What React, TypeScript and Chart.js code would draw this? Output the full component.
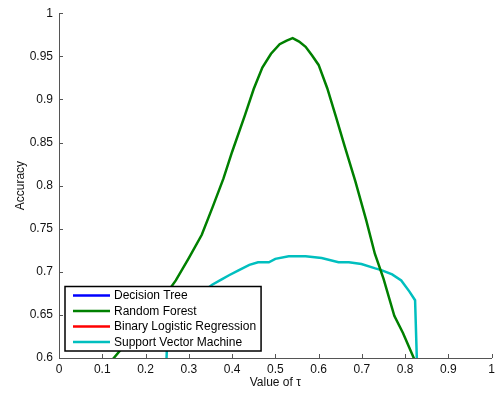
import React, { useEffect, useRef } from "react";
import { Chart, registerables } from "chart.js";

Chart.register(...registerables);

const seriesNames = ["Decision Tree", "Random Forest", "Binary Logistic Regression", "Support Vector Machine"];
const seriesColors = ["#0000FF", "#008000", "#FF0000", "#00BFBF"];

const xTicks = [0, 0.1, 0.2, 0.3, 0.4, 0.5, 0.6, 0.7, 0.8, 0.9, 1];
const yTicks = [0.6, 0.65, 0.7, 0.75, 0.8, 0.85, 0.9, 0.95, 1];

// Decision Tree and Binary Logistic Regression are not visible in the plotted range
const dtTau: number[] = [];
const dtAcc: number[] = [];
const blrTau: number[] = [];
const blrAcc: number[] = [];

const rfTau = [0.12, 0.15, 0.2, 0.25, 0.27, 0.3, 0.33, 0.355, 0.38, 0.4, 0.43, 0.45, 0.47, 0.49, 0.51, 0.525, 0.54, 0.555, 0.57, 0.585, 0.6, 0.62, 0.64, 0.66, 0.685, 0.71, 0.73, 0.75, 0.775, 0.795, 0.82, 0.825];
const rfAcc = [0.596, 0.614, 0.645, 0.676, 0.69, 0.716, 0.743, 0.775, 0.808, 0.839, 0.882, 0.912, 0.937, 0.953, 0.964, 0.968, 0.971, 0.967, 0.961, 0.951, 0.94, 0.913, 0.88, 0.846, 0.805, 0.76, 0.721, 0.692, 0.649, 0.629, 0.6, 0.594];

const svmTau = [0.245, 0.25, 0.28, 0.32, 0.354, 0.375, 0.393, 0.416, 0.44, 0.46, 0.485, 0.5, 0.531, 0.57, 0.607, 0.646, 0.67, 0.699, 0.731, 0.745, 0.77, 0.791, 0.81, 0.823, 0.83];
const svmAcc = [0.55, 0.62, 0.655, 0.672, 0.685, 0.691, 0.696, 0.702, 0.708, 0.711, 0.711, 0.715, 0.718, 0.718, 0.716, 0.711, 0.711, 0.709, 0.704, 0.702, 0.697, 0.69, 0.677, 0.667, 0.55];

const allTau = [dtTau, rfTau, blrTau, svmTau];
const allAcc = [dtAcc, rfAcc, blrAcc, svmAcc];

const FONT = "'Liberation Sans', Arial, Helvetica, sans-serif";
const fmt = (v: number) => String(Number(Number(v).toFixed(2)));

const inwardTicks = {
  id: "inwardTicks",
  afterDraw(chart: any) {
    const ctx = chart.ctx;
    const xs = chart.scales.x;
    const ys = chart.scales.y;
    const area = chart.chartArea;
    ctx.save();
    ctx.strokeStyle = "#555";
    ctx.lineWidth = 1;
    ctx.beginPath();
    xTicks.forEach((t) => {
      const px = Math.round(xs.getPixelForValue(t)) + 0.5;
      ctx.moveTo(px, area.bottom);
      ctx.lineTo(px, area.bottom - 4);
    });
    yTicks.forEach((t) => {
      const py = Math.round(ys.getPixelForValue(t)) + 0.5;
      ctx.moveTo(area.left, py);
      ctx.lineTo(area.left + 4, py);
    });
    ctx.stroke();
    ctx.restore();
  },
};

const boxLegend = {
  id: "boxLegend",
  afterDatasetsDraw(chart: any) {
    const ctx = chart.ctx;
    const area = chart.chartArea;
    ctx.save();
    ctx.font = `12px ${FONT}`;
    const maxW = Math.max(...seriesNames.map((n) => ctx.measureText(n).width));
    const rowH = 15.5;
    const padTop = 9;
    const left = area.left + 6;
    const h = padTop * 2 + rowH * (seriesNames.length - 1);
    const bottom = area.bottom - 7;
    const top = bottom - h;
    const w = 8 + 37 + 4 + maxW + 5;
    ctx.fillStyle = "#fff";
    ctx.fillRect(left, top, w, h);
    ctx.strokeStyle = "#000";
    ctx.lineWidth = 1.5;
    ctx.strokeRect(left, top, w, h);
    seriesNames.forEach((name, i) => {
      const cy = top + padTop + i * rowH;
      ctx.strokeStyle = seriesColors[i];
      ctx.lineWidth = 2.5;
      ctx.beginPath();
      ctx.moveTo(left + 8, cy);
      ctx.lineTo(left + 45, cy);
      ctx.stroke();
      ctx.fillStyle = "#000";
      ctx.textBaseline = "middle";
      ctx.textAlign = "left";
      ctx.fillText(name, left + 49, cy + 0.5);
    });
    ctx.restore();
  },
};

export default function App() {
  const ref = useRef<HTMLCanvasElement>(null);
  useEffect(() => {
    document.body.style.margin = "0";
    const canvas = ref.current;
    if (!canvas) return;
    const datasets = seriesNames.map((name, i) => ({
      label: name,
      data: allTau[i].map((t, j) => ({ x: t, y: allAcc[i][j] })),
      borderColor: seriesColors[i],
      backgroundColor: seriesColors[i],
      borderWidth: 2.5,
      pointRadius: 0,
      tension: 0,
      fill: false,
    }));
    const chart = new Chart(canvas, {
      type: "line",
      data: { datasets },
      options: {
        animation: false,
        responsive: false,
        devicePixelRatio: 1,
        layout: { padding: { top: 13, right: 5, left: 0, bottom: 0 } },
        plugins: { legend: { display: false }, tooltip: { enabled: false } },
        scales: {
          x: {
            type: "linear",
            min: 0,
            max: 1,
            afterFit: (s: any) => {
              s.height = 36;
            },
            afterBuildTicks: (s: any) => {
              s.ticks = xTicks.map((v) => ({ value: v }));
            },
            ticks: {
              callback: (v: any) => fmt(v),
              font: { family: FONT, size: 12 },
              color: "#111",
              padding: 4,
              maxRotation: 0,
            },
            grid: { display: false, drawTicks: false, tickLength: 0 },
            border: { display: true, color: "#555", width: 1 },
            title: {
              display: true,
              text: "Value of τ",
              font: { family: FONT, size: 12 },
              color: "#111",
              padding: { top: 0, bottom: 4 },
            },
          },
          y: {
            type: "linear",
            min: 0.6,
            max: 1,
            afterFit: (s: any) => {
              s.width = 59;
            },
            afterBuildTicks: (s: any) => {
              s.ticks = yTicks.map((v) => ({ value: v }));
            },
            ticks: {
              callback: (v: any) => fmt(v),
              font: { family: FONT, size: 12 },
              color: "#111",
              padding: 6,
            },
            grid: { display: false, drawTicks: false, tickLength: 0 },
            border: { display: true, color: "#555", width: 1 },
            title: {
              display: true,
              text: "Accuracy",
              font: { family: FONT, size: 12 },
              color: "#111",
              padding: { top: 13, bottom: 0 },
            },
          },
        },
      },
      plugins: [inwardTicks, boxLegend],
    } as any);
    return () => chart.destroy();
  }, []);
  return (
    <div style={{ width: 499, height: 394, background: "#fff" }}>
      <canvas ref={ref} width={499} height={394} style={{ display: "block" }} />
    </div>
  );
}
